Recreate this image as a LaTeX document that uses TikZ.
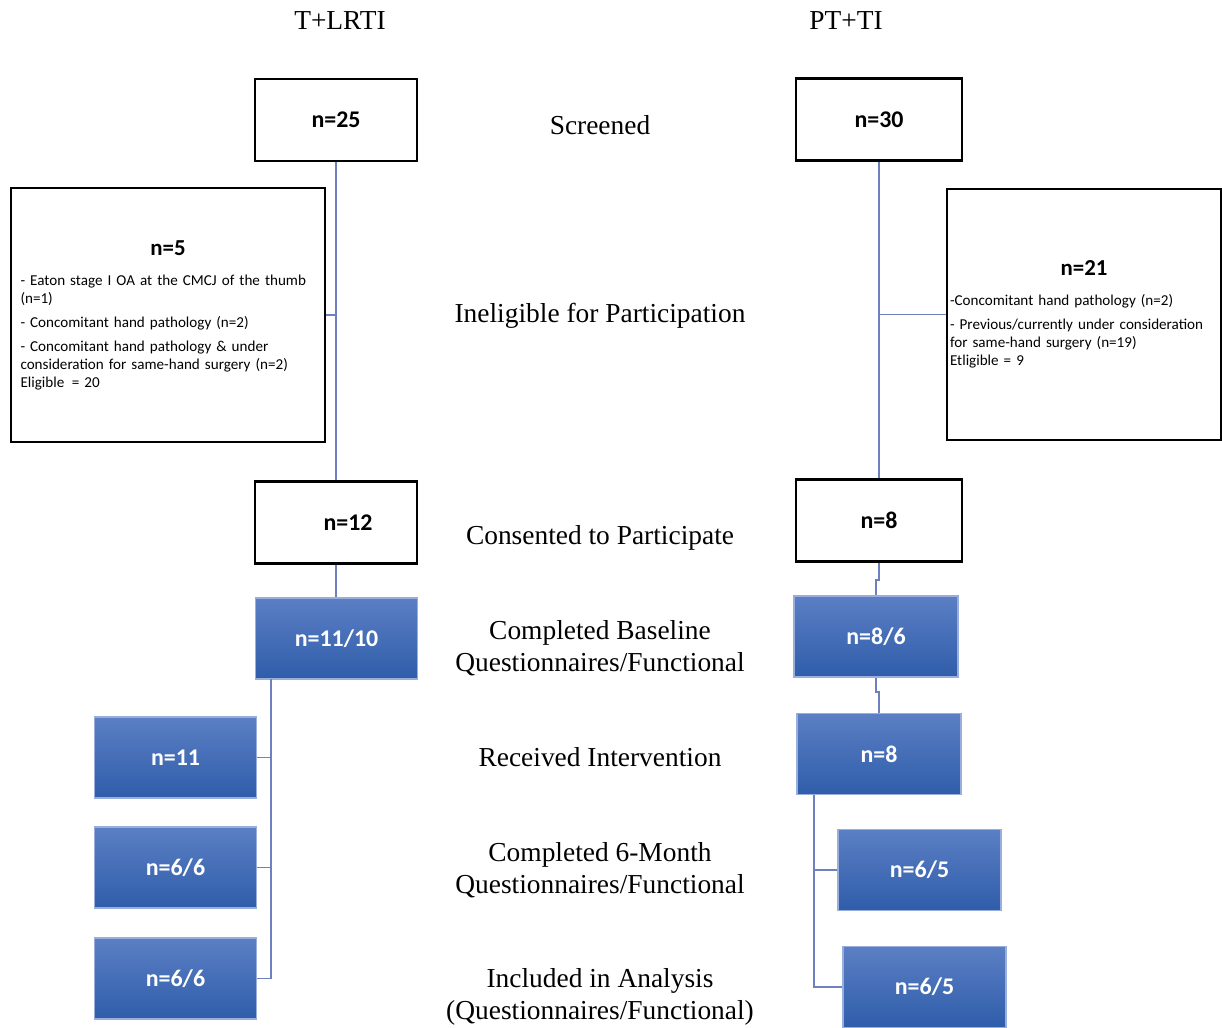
\documentclass[tikz,border=0pt]{standalone}
\usepackage{fontspec}
\setmainfont{Liberation Serif}
\newfontfamily\boxfont{Carlito}
\usepackage{xcolor}
\usetikzlibrary{positioning}

\definecolor{linkblue}{HTML}{6F80BF}
\definecolor{bluetop}{HTML}{5B7FC4}
\definecolor{bluebot}{HTML}{2F5DAA}
\definecolor{blueedge}{HTML}{9AAEDC}

\begin{document}
\begin{tikzpicture}[
        count_box/.style={rectangle, draw, line width=0.7pt, minimum width=1.62cm, minimum height=0.82cm, font=\boxfont\bfseries\fontsize{6.8}{8}\selectfont},
        result_box/.style={rectangle, draw=blueedge, line width=0.4pt, top color=bluetop, bottom color=bluebot, text=white, minimum width=1.62cm, minimum height=0.81cm, font=\boxfont\bfseries\fontsize{6.8}{8}\selectfont},
        note_box/.style={rectangle, draw, line width=0.6pt, align=left, font=\boxfont\fontsize{4.3}{5.1}\selectfont},
        stage/.style={align=center, font=\fontsize{7.8}{9.1}\selectfont},
        link/.style={draw=linkblue, line width=0.45pt}
    ]
    \useasboundingbox (0,0) rectangle (12.22,-10.27);
    \node[stage] (head_l) at (3.40,-0.21) {T+LRTI};
    \node[stage] (head_r) at (8.46,-0.21) {PT+TI};
    \node[count_box] (scr_l) at (3.36,-1.20) {n=25};
    \node[count_box, minimum width=1.66cm] (scr_r) at (8.79,-1.195) {n=30};
    \node[stage] (scr_lab) at (6.00,-1.25) {Screened};
    \node[note_box, text width=2.95cm, inner xsep=0.095cm, minimum width=3.14cm, minimum height=2.54cm] (inel_l) at (1.68,-3.15) {\makebox[\linewidth]{\fontsize{6.5}{7}\selectfont\bfseries n=5}\\[3.5pt]
        - Eaton stage I OA at the CMCJ of the thumb\\ (n=1)\\[1.7pt]
        - Concomitant hand pathology (n=2)\\[1.7pt]
        - Concomitant hand pathology \& under\\ consideration for same-hand surgery (n=2)\\ Eligible \,= 20};
    \node[note_box, text width=2.68cm, inner xsep=0.03cm, minimum width=2.74cm, minimum height=2.51cm] (inel_r) at (10.84,-3.145) {\makebox[\linewidth]{\fontsize{6.5}{7}\selectfont\bfseries n=21}\\[3.5pt]
        -Concomitant hand pathology (n=2)\\[1.7pt]
        - Previous/currently under consideration\\ for same-hand surgery (n=19)\\ Etligible = 9};
    \node[stage] (inel_lab) at (6.00,-3.16) {Ineligible for Participation};
    \node[count_box] (cons_l) at (3.36,-5.225) {\hspace*{0.24cm}n=12};
    \node[count_box, minimum width=1.66cm] (cons_r) at (8.79,-5.205) {n=8};
    \node[stage] (cons_lab) at (6.00,-5.38) {Consented to Participate};
    \node[result_box] (base_l) at (3.365,-6.385) {n=11/10};
    \node[result_box, minimum width=1.64cm] (base_r) at (8.76,-6.365) {n=8/6};
    \node[stage] (base_lab) at (6.00,-6.48) {Completed Baseline\\Questionnaires/Functional};
    \node[result_box] (int_l) at (1.755,-7.575) {n=11};
    \node[result_box, minimum width=1.64cm] (int_r) at (8.79,-7.54) {n=8};
    \node[stage] (int_lab) at (6.00,-7.57) {Received Intervention};
    \node[result_box] (six_l) at (1.755,-8.675) {n=6/6};
    \node[result_box, minimum width=1.63cm] (six_r) at (9.195,-8.70) {n=6/5};
    \node[stage] (six_lab) at (6.00,-8.70) {Completed 6-Month\\Questionnaires/Functional};
    \node[result_box] (ana_l) at (1.755,-9.785) {n=6/6};
    \node[result_box, minimum width=1.63cm] (ana_r) at (9.245,-9.87) {n=6/5};
    \node[stage] (ana_lab) at (6.00,-9.97) {Included in Analysis\\(Questionnaires/Functional)};
    \coordinate (trunk_l) at (2.71,-6.79);
    \coordinate (trunk_r) at (8.14,-7.95);
    \draw[link] (scr_l.south) -- (cons_l.north);
    \draw[link] (inel_l.east) -- (inel_l.east -| scr_l.south);
    \draw[link] (scr_r.south) -- (cons_r.north);
    \draw[link] (inel_r.west) -- (inel_r.west -| scr_r.south);
    \draw[link] (cons_l.south) -- (cons_l.south |- base_l.north);
    \draw[link] (cons_r.south) -- ++(0,-0.17) -| (base_r.north);
    \draw[link] (base_r.south) -- ++(0,-0.14) -| (int_r.north);
    \draw[link] (trunk_l) |- (int_l.east);
    \draw[link] (trunk_l) |- (six_l.east);
    \draw[link] (trunk_l) |- (ana_l.east);
    \draw[link] (trunk_r) |- (six_r.west);
    \draw[link] (trunk_r) |- (ana_r.west);
\end{tikzpicture}
\end{document}
